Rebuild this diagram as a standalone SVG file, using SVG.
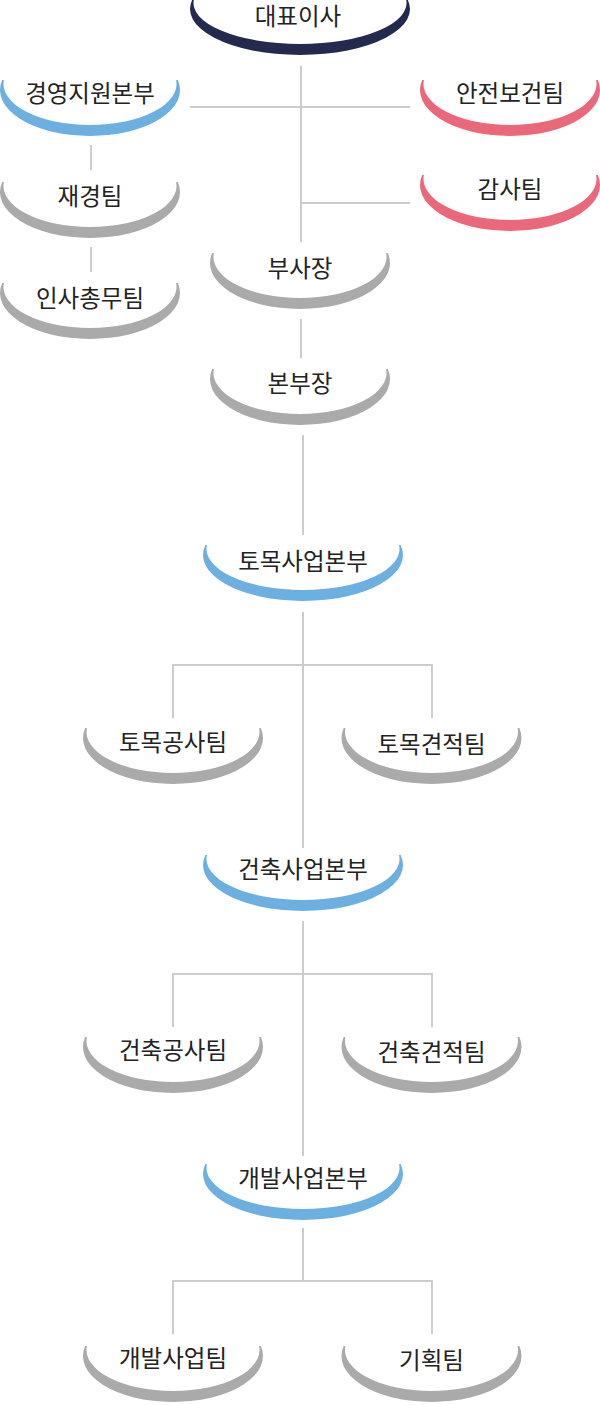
<svg xmlns="http://www.w3.org/2000/svg" width="600" height="1405" viewBox="0 0 600 1405">
<style>
.navy{fill:#232a4d}.blue{fill:#6cb0e1}.red{fill:#ea6879}.gray{fill:#aaaaaa}
.lbl{font-family:"Noto Sans CJK KR","Noto Sans",sans-serif;font-size:23.5px;font-weight:400;fill:#222222;text-anchor:middle}
.conn line{stroke:#cccccc;stroke-width:2;fill:none}
</style>
<rect width="600" height="1405" fill="#ffffff"/>
<g class="conn" id="connectors">
<line x1="301" y1="66" x2="301" y2="242"/>
<line x1="190" y1="107" x2="410" y2="107"/>
<line x1="301" y1="203" x2="410" y2="203"/>
<line x1="91" y1="145" x2="91" y2="170"/>
<line x1="91" y1="247" x2="91" y2="272"/>
<line x1="301" y1="319" x2="301" y2="358"/>
<line x1="303" y1="435" x2="303" y2="535"/>
<line x1="303" y1="612" x2="303" y2="848"/>
<line x1="173" y1="665" x2="432" y2="665"/>
<line x1="173" y1="664" x2="173" y2="718"/>
<line x1="432" y1="664" x2="432" y2="718"/>
<line x1="303" y1="921" x2="303" y2="1156"/>
<line x1="173" y1="974" x2="432" y2="974"/>
<line x1="173" y1="973" x2="173" y2="1027"/>
<line x1="432" y1="973" x2="432" y2="1027"/>
<line x1="303" y1="1228" x2="303" y2="1281"/>
<line x1="173" y1="1281" x2="432" y2="1281"/>
<line x1="173" y1="1280" x2="173" y2="1334"/>
<line x1="432" y1="1280" x2="432" y2="1334"/>
</g>
<g id="n-ceo"><path class="navy" d="M192.63,-1 A110,46 0 1 0 407.37,-1 L405.99,-1 A106.5,41 0 1 1 194.01,-1 Z"/><text class="lbl" x="298" y="24.5">대표이사</text></g>
<g id="n-mgmt"><path class="blue" d="M2.15,80 A90,46 0 1 0 177.85,80 L176.09,80 A86.5,41 0 1 1 3.91,80 Z"/><text class="lbl" x="90" y="102">경영지원본부</text></g>
<g id="n-safety"><path class="red" d="M422.15,80 A90,46 0 1 0 597.85,80 L596.09,80 A86.5,41 0 1 1 423.91,80 Z"/><text class="lbl" x="510" y="102">안전보건팀</text></g>
<g id="n-finance"><path class="gray" d="M2.15,182 A90,46 0 1 0 177.85,182 L176.09,182 A86.5,41 0 1 1 3.91,182 Z"/><text class="lbl" x="90" y="205">재경팀</text></g>
<g id="n-audit"><path class="red" d="M422.15,175 A90,46 0 1 0 597.85,175 L596.09,175 A86.5,41 0 1 1 423.91,175 Z"/><text class="lbl" x="510" y="198">감사팀</text></g>
<g id="n-hr"><path class="gray" d="M2.15,283 A90,46 0 1 0 177.85,283 L176.09,283 A86.5,41 0 1 1 3.91,283 Z"/><text class="lbl" x="90" y="307">인사총무팀</text></g>
<g id="n-vp"><path class="gray" d="M212.15,253 A90,46 0 1 0 387.85,253 L386.09,253 A86.5,41 0 1 1 213.91,253 Z"/><text class="lbl" x="300" y="277">부사장</text></g>
<g id="n-head"><path class="gray" d="M212.15,369 A90,46 0 1 0 387.85,369 L386.09,369 A86.5,41 0 1 1 213.91,369 Z"/><text class="lbl" x="300" y="392">본부장</text></g>
<g id="n-civil"><path class="blue" d="M205.39,545 A100,46 0 1 0 400.61,545 L399.04,545 A96.5,41 0 1 1 206.96,545 Z"/><text class="lbl" x="303" y="570">토목사업본부</text></g>
<g id="n-civil-con"><path class="gray" d="M85.15,728 A90,46 0 1 0 260.85,728 L259.09,728 A86.5,41 0 1 1 86.91,728 Z"/><text class="lbl" x="173" y="751">토목공사팀</text></g>
<g id="n-civil-est"><path class="gray" d="M343.65,728 A90,46 0 1 0 519.35,728 L517.59,728 A86.5,41 0 1 1 345.41,728 Z"/><text class="lbl" x="431.5" y="753">토목견적팀</text></g>
<g id="n-arch"><path class="blue" d="M205.39,855 A100,46 0 1 0 400.61,855 L399.04,855 A96.5,41 0 1 1 206.96,855 Z"/><text class="lbl" x="303" y="878">건축사업본부</text></g>
<g id="n-arch-con"><path class="gray" d="M85.15,1037 A90,46 0 1 0 260.85,1037 L259.09,1037 A86.5,41 0 1 1 86.91,1037 Z"/><text class="lbl" x="173" y="1059">건축공사팀</text></g>
<g id="n-arch-est"><path class="gray" d="M343.65,1037 A90,46 0 1 0 519.35,1037 L517.59,1037 A86.5,41 0 1 1 345.41,1037 Z"/><text class="lbl" x="431.5" y="1061">건축견적팀</text></g>
<g id="n-dev"><path class="blue" d="M205.39,1164 A100,46 0 1 0 400.61,1164 L399.04,1164 A96.5,41 0 1 1 206.96,1164 Z"/><text class="lbl" x="303" y="1187">개발사업본부</text></g>
<g id="n-dev-team"><path class="gray" d="M85.15,1346 A90,46 0 1 0 260.85,1346 L259.09,1346 A86.5,41 0 1 1 86.91,1346 Z"/><text class="lbl" x="173" y="1367">개발사업팀</text></g>
<g id="n-plan"><path class="gray" d="M343.65,1346 A90,46 0 1 0 519.35,1346 L517.59,1346 A86.5,41 0 1 1 345.41,1346 Z"/><text class="lbl" x="431.5" y="1369">기획팀</text></g>
</svg>
